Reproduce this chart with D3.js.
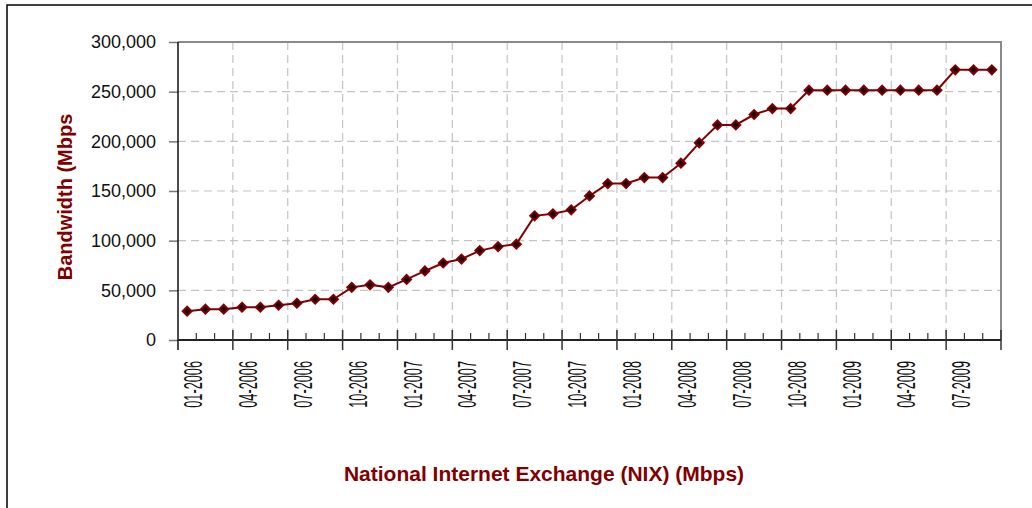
<!DOCTYPE html>
<html>
<head>
<meta charset="utf-8">
<script src="https://cdn.jsdelivr.net/npm/d3@7"></script>
<style>
  body { margin: 0; background: #fff; }
  svg { display: block; font-family: "Liberation Sans", Arial, sans-serif; }
</style>
</head>
<body>
<svg id="chart" width="1032" height="508"></svg>
<script>
// months 01-2006 .. 09-2009
var months = ['01-2006', '02-2006', '03-2006', '04-2006', '05-2006', '06-2006', '07-2006', '08-2006', '09-2006',
  '10-2006', '11-2006', '12-2006', '01-2007', '02-2007', '03-2007', '04-2007', '05-2007', '06-2007',
  '07-2007', '08-2007', '09-2007', '10-2007', '11-2007', '12-2007', '01-2008', '02-2008', '03-2008',
  '04-2008', '05-2008', '06-2008', '07-2008', '08-2008', '09-2008', '10-2008', '11-2008', '12-2008',
  '01-2009', '02-2009', '03-2009', '04-2009', '05-2009', '06-2009', '07-2009', '08-2009', '09-2009']

// bandwidth in Mbps
var bandwidth = [29000, 31000, 31000, 33000, 33000, 35000, 37000, 41000, 41000,
  53000, 55500, 53000, 61000, 69500, 77500, 81500, 90000, 94000,
  96500, 125000, 127000, 131000, 145000, 157500, 157500, 163500, 163500,
  178000, 198500, 216500, 216500, 227000, 233000, 233000, 251500, 251500,
  251500, 251500, 251500, 251500, 251500, 251500, 272000, 272000, 272000]

// quarterly labels shown on the x axis
var xLabels = ['01-2006', '04-2006', '07-2006', '10-2006', '01-2007', '04-2007', '07-2007', '10-2007',
  '01-2008', '04-2008', '07-2008', '10-2008', '01-2009', '04-2009', '07-2009']

var yTicks = [0, 50000, 100000, 150000, 200000, 250000, 300000]

var yTitle = 'Bandwidth (Mbps'
var xTitle = 'National Internet Exchange (NIX) (Mbps)'

var red = '#800000'
var svg = d3.select('#chart')

// outer frame
svg.append('rect')
  .attr('x', 7).attr('y', 5)
  .attr('width', 1040).attr('height', 520)
  .attr('fill', 'none').attr('stroke', '#000').attr('stroke-width', 1.5)

// plot area edges (don't call it `top`, that's window.top)
var plotL = 178, plotR = 1001, plotT = 42, plotB = 340

var x = d3.scaleBand().domain(months).range([plotL, plotR]).padding(0)
var y = d3.scaleLinear().domain([0, 300000]).range([plotB, plotT])
var bw = x.bandwidth()

// quarter boundaries (major ticks + vertical grid)
var quarterEdges = months.filter((m, i) => i % 3 === 0).map((m) => x(m)).concat([plotR])

// horizontal grid
svg.append('g').selectAll('line')
  .data(yTicks.slice(1))
  .enter().append('line')
  .attr('x1', plotL).attr('x2', plotR)
  .attr('y1', (d) => y(d)).attr('y2', (d) => y(d))
  .attr('stroke', '#c4c4c4').attr('stroke-width', 1.2)
  .attr('stroke-dasharray', '8,5')

// vertical grid
svg.append('g').selectAll('line')
  .data(quarterEdges.slice(1, -1))
  .enter().append('line')
  .attr('x1', (d) => d).attr('x2', (d) => d)
  .attr('y1', plotT).attr('y2', plotB)
  .attr('stroke', '#c4c4c4').attr('stroke-width', 1.2)
  .attr('stroke-dasharray', '8,5')

// plot border (top and right)
svg.append('path')
  .attr('d', 'M' + plotL + ',' + plotT + 'H' + plotR + 'V' + plotB)
  .attr('fill', 'none').attr('stroke', '#8a8a8a').attr('stroke-width', 2)

// y axis
var yAxis = svg.append('g')
  .attr('transform', 'translate(' + plotL + ',0)')
  .call(d3.axisLeft(y).tickValues(yTicks).tickSize(9).tickPadding(13)
    .tickFormat(d3.format(',')))
yAxis.select('.domain').remove()
yAxis.selectAll('line').attr('stroke', '#777').attr('stroke-width', 1.5)
yAxis.selectAll('text')
  .attr('font-size', 18).attr('fill', '#111')
  .attr('font-family', '"Liberation Sans", Arial, sans-serif')
svg.append('line')
  .attr('x1', plotL).attr('x2', plotL)
  .attr('y1', plotT).attr('y2', plotB + 10)
  .attr('stroke', '#111').attr('stroke-width', 1.5)

// x axis line and ticks
svg.append('line')
  .attr('x1', plotL).attr('x2', plotR)
  .attr('y1', plotB).attr('y2', plotB)
  .attr('stroke', '#222').attr('stroke-width', 2)

svg.append('g').selectAll('line')
  .data(months.filter((m, i) => i % 3 !== 0))
  .enter().append('line')
  .attr('x1', (d) => x(d)).attr('x2', (d) => x(d))
  .attr('y1', plotB - 7).attr('y2', plotB)
  .attr('stroke', '#333').attr('stroke-width', 1.2)

svg.append('g').selectAll('line')
  .data(quarterEdges.slice(1))
  .enter().append('line')
  .attr('x1', (d) => d).attr('x2', (d) => d)
  .attr('y1', plotB - 10).attr('y2', plotB + 10)
  .attr('stroke', '#333').attr('stroke-width', 1.5)

// x labels, condensed and rotated
svg.append('g').selectAll('text')
  .data(xLabels)
  .enter().append('text')
  .attr('transform', (d) => 'translate(' + (x(d) + bw / 2 + 15) + ',361) rotate(-90) scale(0.49,1)')
  .attr('text-anchor', 'end')
  .attr('font-size', 26)
  .attr('fill', '#111')
  .text((d) => d)

// line + diamond markers
var line = d3.line()
  .x((d, i) => x(months[i]) + bw / 2)
  .y((d) => y(d))

svg.append('path')
  .datum(bandwidth)
  .attr('d', line)
  .attr('fill', 'none').attr('stroke', red).attr('stroke-width', 2)

svg.append('g').selectAll('path')
  .data(bandwidth)
  .enter().append('path')
  .attr('d', d3.symbol().type(d3.symbolDiamond2).size(50))
  .attr('transform', (d, i) => 'translate(' + (x(months[i]) + bw / 2) + ',' + y(d) + ')')
  .attr('fill', '#1a0000').attr('stroke', red).attr('stroke-width', 2)

// titles
svg.append('text')
  .attr('transform', 'translate(72,197) rotate(-90)')
  .attr('text-anchor', 'middle')
  .attr('font-size', 20).attr('font-weight', 'bold')
  .attr('fill', red)
  .text(yTitle)

svg.append('text')
  .attr('x', 544).attr('y', 481)
  .attr('text-anchor', 'middle')
  .attr('font-size', 21).attr('font-weight', 'bold')
  .attr('fill', red)
  .text(xTitle)
</script>
</body>
</html>
